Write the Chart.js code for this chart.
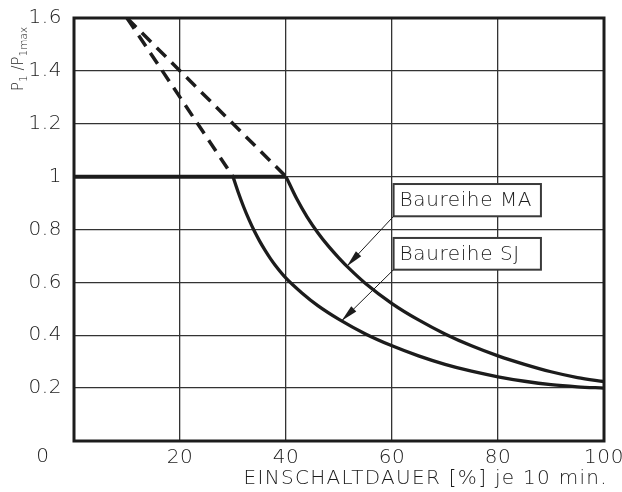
<!DOCTYPE html>
<html><head><meta charset="utf-8">
<script src="https://cdn.jsdelivr.net/npm/chart.js@4.4.0/dist/chart.umd.min.js"></script>
<style>html,body{margin:0;padding:0;background:#fff}#wrap{width:622px;height:492px}</style>
</head><body><div id="wrap"><canvas id="c" width="622" height="492"></canvas></div>
<script>
// ---- data ----
const xTickValues = [0, 20, 40, 60, 80, 100];
const yTickValues = [0, 0.2, 0.4, 0.6, 0.8, 1.0, 1.2, 1.4, 1.6];
const maX = [40, 42, 44, 46, 48, 50, 52, 55, 60, 65, 70, 75, 80, 85, 90, 95, 100];
const maY = [1.0, 0.917, 0.847, 0.788, 0.737, 0.692, 0.651, 0.596, 0.52, 0.458, 0.405, 0.36, 0.322, 0.29, 0.262, 0.24, 0.225];
const sjX = [30, 31, 32, 33, 34, 35, 36, 37, 38, 40, 43, 46, 50, 55, 60, 65, 70, 75, 80, 85, 90, 95, 100];
const sjY = [1.0, 0.94, 0.886, 0.838, 0.795, 0.757, 0.723, 0.692, 0.664, 0.616, 0.56, 0.512, 0.46, 0.405, 0.36, 0.322, 0.29, 0.264, 0.243, 0.226, 0.213, 0.205, 0.2];
const maDashX = [10, 40], maDashY = [1.6, 1.0];
const sjDashX = [10, 30], sjDashY = [1.6, 1.0];
const ratedX = [0, 40], ratedY = [1.0, 1.0];
const seriesLabels = ['Baureihe MA', 'Baureihe SJ'];
const xTitle = 'EINSCHALTDAUER [%] je 10 min.';
const originLabel = '0';

const FONT = 'DejaVu Sans';
const INK = '#1c1c1c';
const pts = (xs, ys) => xs.map((x, i) => ({x, y: ys[i]}));
function interp(xs, ys, x) {
  for (let i = 0; i < xs.length - 1; i++) {
    if (x >= xs[i] && x <= xs[i+1]) { const t = (x - xs[i]) / (xs[i+1] - xs[i]); return ys[i] + t * (ys[i+1] - ys[i]); }
  }
  return ys[ys.length-1];
}

const deco = {
  id: 'deco',
  beforeDraw(chart) { chart.ctx.letterSpacing = '0.6px'; },
  beforeDatasetsDraw(chart) {
    const {ctx, chartArea: a} = chart;
    ctx.save(); ctx.strokeStyle = INK; ctx.lineWidth = 3;
    ctx.strokeRect(a.left, a.top, a.right - a.left, a.bottom - a.top);
    ctx.restore();
  },
  afterDraw(chart) {
    const {ctx, chartArea: a, scales: {x, y}} = chart;
    ctx.save();
    ctx.letterSpacing = '0.6px';
    ctx.fillStyle = INK;
    ctx.font = `200 20px "${FONT}"`;
    // origin label
    ctx.textAlign = 'center'; ctx.textBaseline = 'middle';
    ctx.fillText(originLabel, a.left - 31, a.bottom + 16);
    // x title
    ctx.letterSpacing = '1.3px';
    ctx.textAlign = 'right';
    ctx.fillText(xTitle, a.right + 4, a.bottom + 38);
    ctx.letterSpacing = '0.6px';
    // y title rotated with subscripts
    ctx.save();
    ctx.translate(23, a.top + 73);
    ctx.rotate(-Math.PI / 2);
    ctx.textAlign = 'left'; ctx.textBaseline = 'alphabetic';
    ctx.letterSpacing = '0px';
    let cx = 0;
    const parts = [['P', 15, 0], ['1', 10.5, 3.5], [' /P', 15, 0], ['1max', 10.5, 3.5]];
    for (const [t, s, dy] of parts) {
      ctx.font = `200 ${s}px "${FONT}"`;
      ctx.fillText(t, cx, dy);
      cx += ctx.measureText(t).width;
    }
    ctx.restore();
    // annotation boxes with leaders
    const boxes = [
      {label: seriesLabels[0], x1: 60.3, x2: 88.1, yt: 0.972, yb: 0.85, tipX: 51.5, xs: maX, ys: maY},
      {label: seriesLabels[1], x1: 60.3, x2: 88.1, yt: 0.768, yb: 0.648, tipX: 50.5, xs: sjX, ys: sjY}
    ];
    for (const b of boxes) {
      const L = x.getPixelForValue(b.x1), R = x.getPixelForValue(b.x2);
      const T = y.getPixelForValue(b.yt), B = y.getPixelForValue(b.yb);
      ctx.fillStyle = '#fff'; ctx.fillRect(L, T, R - L, B - T);
      ctx.strokeStyle = '#3a3a3a'; ctx.lineWidth = 2;
      ctx.strokeRect(L, T, R - L, B - T);
      ctx.fillStyle = INK; ctx.font = `200 20px "${FONT}"`;
      ctx.textAlign = 'left'; ctx.textBaseline = 'middle';
      ctx.fillText(b.label, L + 6, (T + B) / 2 + 1);
      // leader
      const tx = x.getPixelForValue(b.tipX), ty = y.getPixelForValue(interp(b.xs, b.ys, b.tipX));
      ctx.strokeStyle = INK; ctx.lineWidth = 1;
      ctx.beginPath(); ctx.moveTo(L, B); ctx.lineTo(tx, ty); ctx.stroke();
      const ang = Math.atan2(B - ty, L - tx);
      const len = 17, hw = 3.6;
      const bx = tx + Math.cos(ang) * len, by = ty + Math.sin(ang) * len;
      const nx = -Math.sin(ang) * hw, ny = Math.cos(ang) * hw;
      ctx.beginPath(); ctx.moveTo(tx, ty); ctx.lineTo(bx + nx, by + ny); ctx.lineTo(bx - nx, by - ny); ctx.closePath();
      ctx.fill();
    }
    ctx.restore();
  }
};

new Chart(document.getElementById('c'), {
  type: 'scatter',
  data: {
    datasets: [
      {data: pts(ratedX, ratedY), borderWidth: 4},
      {data: pts(maDashX, maDashY), borderWidth: 3.5, borderDash: [13, 8]},
      {data: pts(sjDashX, sjDashY), borderWidth: 3.5, borderDash: [13, 8]},
      {data: pts(maX, maY), borderWidth: 3.3, cubicInterpolationMode: 'monotone'},
      {data: pts(sjX, sjY), borderWidth: 3.3, cubicInterpolationMode: 'monotone'}
    ].map(d => Object.assign({showLine: true, pointRadius: 0, borderColor: INK, fill: false, borderCapStyle: 'butt'}, d))
  },
  options: {
    responsive: false, animation: false, devicePixelRatio: 1,
    layout: {padding: {top: 18, right: 18, left: 0, bottom: 0}},
    plugins: {legend: {display: false}, tooltip: {enabled: false}},
    scales: {
      x: {
        type: 'linear', min: 0, max: 100,
        afterBuildTicks: s => { s.ticks = xTickValues.map(v => ({value: v})); },
        ticks: {callback: v => v === 0 ? '' : String(v), color: INK, font: {family: FONT, size: 20, weight: 200}, padding: 5, maxRotation: 0, autoSkip: false},
        grid: {color: '#333', lineWidth: 1.3, drawTicks: false},
        border: {display: false},
        afterFit: s => { s.height = 51; s.paddingLeft = 0; s.paddingRight = 0; }
      },
      y: {
        min: 0, max: 1.6,
        afterBuildTicks: s => { s.ticks = yTickValues.map(v => ({value: v})); },
        ticks: {callback: v => v === 0 ? '' : String(+v.toFixed(1)), color: INK, font: {family: FONT, size: 20, weight: 200}, padding: 12, autoSkip: false},
        grid: {color: '#333', lineWidth: 1.3, drawTicks: false},
        border: {display: false},
        afterFit: s => { s.width = 74; s.paddingTop = 0; s.paddingBottom = 0; }
      }
    }
  },
  plugins: [deco]
});
</script></body></html>
